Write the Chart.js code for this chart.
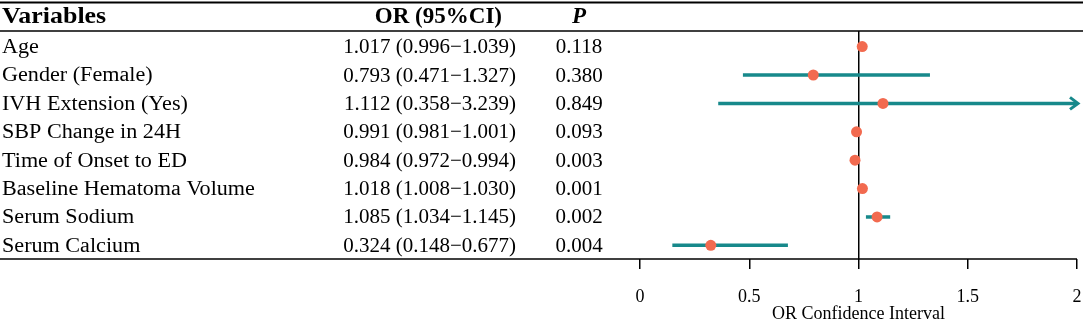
<!DOCTYPE html>
<html>
<head>
<meta charset="utf-8">
<script src="https://cdn.jsdelivr.net/npm/chart.js@4.4.0/dist/chart.umd.min.js"></script>
<style>
  html, body { margin: 0; padding: 0; background: #fff; }
  #forest { display: block; }
</style>
</head>
<body>
<canvas id="forest" width="1083" height="321"></canvas>
<script>
const variables = ['Age', 'Gender (Female)', 'IVH Extension (Yes)', 'SBP Change in 24H',
    'Time of Onset to ED', 'Baseline Hematoma Volume', 'Serum Sodium', 'Serum Calcium'];
const orValues = [1.017, 0.793, 1.112, 0.991, 0.984, 1.018, 1.085, 0.324];
const ciLower = [0.996, 0.471, 0.358, 0.981, 0.972, 1.008, 1.034, 0.148];
const ciUpper = [1.039, 1.327, 3.239, 1.001, 0.994, 1.030, 1.145, 0.677];
const pValues = ['0.118', '0.380', '0.849', '0.093', '0.003', '0.001', '0.002', '0.004'];
const xTicks = [0, 0.5, 1, 1.5, 2];

const TEAL = '#17898b';
const DOT = '#f26a4f';
const SERIF = '"Liberation Serif", "Times New Roman", serif';

// one line dataset per CI row
var ciSets = variables.map(function(name, i) {
    return {
        type: 'line',
        label: name,
        data: [{x: ciLower[i], y: i}, {x: ciUpper[i], y: i}],
        borderColor: TEAL,
        borderWidth: 3.5,
        borderCapStyle: 'butt',
        pointRadius: 0,
        order: 2
    };
});

var pointSet = {
    type: 'scatter',
    label: 'OR',
    data: orValues.map(function(v, i) { return {x: v, y: i}; }),
    backgroundColor: DOT,
    borderWidth: 0,
    pointRadius: 5.5,
    order: 1
};

function hline(ctx, x1, x2, y) {
    ctx.beginPath();
    ctx.moveTo(x1, y);
    ctx.lineTo(x2, y);
    ctx.stroke();
}

// left column text is a bit wider in the original
function wideText(ctx, txt, x, y) {
    ctx.save();
    ctx.translate(x, y);
    ctx.scale(1.08, 1);
    ctx.fillText(txt, 0, 0);
    ctx.restore();
}

// draws the table columns, rules and arrows
const tablePlugin = {
    id: 'table',
    afterDraw(chart) {
        var ctx = chart.ctx;
        var area = chart.chartArea;
        var xs = chart.scales.x;
        var ys = chart.scales.y;
        ctx.save();

        ctx.strokeStyle = '#000';
        ctx.lineWidth = 2;
        hline(ctx, 0, chart.width, 2.5);
        ctx.lineWidth = 1.5;
        hline(ctx, 0, chart.width, area.top);
        hline(ctx, 0, area.right, area.bottom);

        ctx.fillStyle = '#000';
        ctx.textBaseline = 'middle';
        ctx.font = 'bold 24px ' + SERIF;
        ctx.textAlign = 'left';
        wideText(ctx, 'Variables', 2, 17);
        ctx.font = 'bold 23px ' + SERIF;
        ctx.textAlign = 'right';
        ctx.fillText('OR (95%CI)', 502, 17);
        ctx.font = 'italic bold 23px ' + SERIF;
        ctx.textAlign = 'center';
        ctx.fillText('P', 579, 17);

        variables.forEach(function(name, i) {
            var y = ys.getPixelForValue(i) + 1;
            ctx.font = '20.5px ' + SERIF;
            ctx.textAlign = 'left';
            wideText(ctx, name, 2, y);
            ctx.font = '21px ' + SERIF;
            ctx.textAlign = 'right';
            var txt = orValues[i].toFixed(3) + ' (' + ciLower[i].toFixed(3) + '\u2212' + ciUpper[i].toFixed(3) + ')';
            ctx.fillText(txt, 516, y);
            ctx.textAlign = 'center';
            ctx.fillText(pValues[i], 579, y);
        });

        // arrow heads where the CI runs past the axis
        ctx.strokeStyle = TEAL;
        ctx.lineWidth = 3;
        ctx.lineJoin = 'miter';
        variables.forEach(function(name, i) {
            if (ciUpper[i] > xs.max) {
                var tx = xs.getPixelForValue(xs.max) + 1;
                var ty = ys.getPixelForValue(i);
                ctx.beginPath();
                ctx.moveTo(tx - 8, ty - 6);
                ctx.lineTo(tx, ty);
                ctx.lineTo(tx - 8, ty + 6);
                ctx.stroke();
            }
        });
        ctx.restore();
    }
};

var chart = new Chart(document.getElementById('forest'), {
    data: {
        datasets: [pointSet].concat(ciSets)
    },
    options: {
        responsive: false,
        animation: false,
        events: [],
        layout: {
            padding: {left: 640, top: 31, right: 6, bottom: 0}
        },
        plugins: {
            legend: {display: false},
            tooltip: {enabled: false}
        },
        scales: {
            x: {
                type: 'linear',
                min: 0,
                max: 2,
                afterBuildTicks: function(scale) {
                    scale.ticks = xTicks.map(function(v) { return {value: v}; });
                },
                afterFit: function(scale) {
                    scale.height = 62;
                    scale.paddingLeft = 0;
                    scale.paddingRight = 0;
                },
                grid: {
                    drawOnChartArea: true,
                    color: function(c) { return c.tick && c.tick.value === 1 ? '#000' : 'rgba(0,0,0,0)'; },
                    tickColor: '#000',
                    tickLength: 10,
                    lineWidth: 1.5
                },
                border: {display: false},
                ticks: {
                    color: '#000',
                    padding: 17,
                    font: {family: SERIF, size: 18},
                    callback: function(v) { return String(v); }
                },
                title: {
                    display: true,
                    text: 'OR Confidence Interval',
                    color: '#000',
                    padding: {top: 0, bottom: -2},
                    font: {family: SERIF, size: 18, lineHeight: 1}
                }
            },
            y: {
                type: 'linear',
                display: false,
                reverse: true,
                min: -0.55,
                max: 7.48
            }
        }
    },
    plugins: [tablePlugin]
});
</script>
</body>
</html>
